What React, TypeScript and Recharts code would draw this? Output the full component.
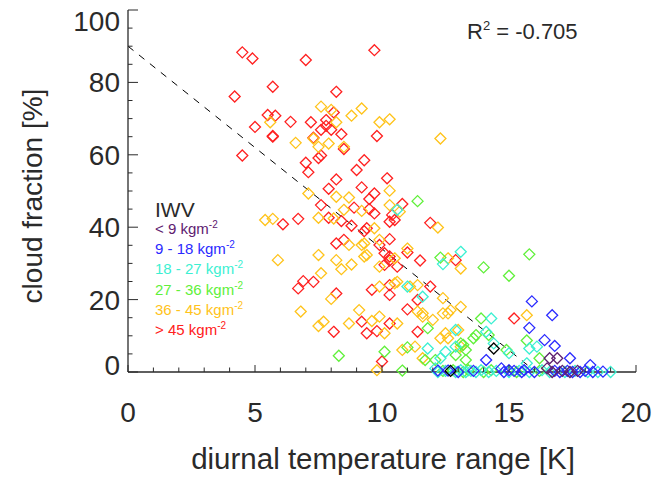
import React from "react";
import { ScatterChart, Scatter, XAxis, YAxis, ReferenceLine, Label } from "recharts";

const FONT = '"Liberation Sans", Arial, Helvetica, sans-serif';
const INK = "#2a2a2a";

// plot frame (px) used for the inward tick marks and titles
const PLOT_LEFT = 128;
const PLOT_TOP = 10;
const PLOT_RIGHT = 636;
const PLOT_BOTTOM = 372;

const xTicks = [0, 1, 2, 3, 4, 5, 6, 7, 8, 9, 10, 11, 12, 13, 14, 15, 16, 17, 18, 19, 20];
const xMajor = [0, 5, 10, 15, 20];
const yTicks = [0, 5, 10, 15, 20, 25, 30, 35, 40, 45, 50, 55, 60, 65, 70, 75, 80, 85, 90, 95, 100];
const yMajor = [0, 20, 40, 60, 80, 100];

// IWV classes, [diurnal temperature range K, cloud fraction %]
const iwvLabels = ["< 9", "9 - 18", "18 - 27", "27 - 36", "36 - 45", "> 45"];
const iwvColors = ["#5e2070", "#2a2aff", "#3cf0d2", "#60f03a", "#ffc31a", "#ff2020"];

const iwvBelow9: [number, number][] = [
  [16.6, 3.8], [16.9, 3.8], [16.5, 1.0], [16.7, 0], [17.1, 0.3], [17.4, 0], [17.7, 0.3],
];

const iwv9to18: [number, number][] = [
  [15.9, 19.5], [16.7, 15.7], [15.8, 12.2], [16.4, 8.8], [16.8, 7.2], [17.4, 3.8], [18.2, 1.9],
  [18.7, 0.1], [14.1, 3.3], [14.7, 1.0], [15.0, 0.5], [12.2, 0.4], [12.6, 0.4], [13.0, 0],
  [13.6, 0.3], [14.8, 0], [15.2, 0.3], [15.5, 0], [15.6, 0.5], [16.0, 0], [16.8, 0.3],
  [17.0, 0], [17.3, 0.3], [17.5, 0], [17.8, 0], [18.0, 0.3], [18.3, 0],
];

const iwv18to27: [number, number][] = [
  [10.6, 44.8], [13.1, 33.2], [12.4, 29.8], [11.0, 23.6], [11.6, 20.8], [14.3, 14.8],
  [12.9, 11.6], [14.1, 11.1], [11.8, 6.5], [12.5, 5.6], [12.9, 7.0], [12.3, 3.8], [12.1, 1.0],
  [14.4, 7.9], [15.8, 6.5], [16.1, 7.0], [15.7, 2.4], [19.0, 0], [15.0, 5.2],
  [12.2, 0], [12.5, 0.3], [12.9, 0], [13.1, 0.5], [13.3, 0], [13.5, 0.3], [13.7, 0],
  [13.9, 0.5], [14.2, 0], [14.5, 0.3], [15.0, 0], [15.4, 0.3], [15.8, 0], [16.3, 0.5],
  [16.6, 0], [17.2, 0], [17.6, 0.3], [18.1, 0], [18.5, 0],
];

const iwv27to36: [number, number][] = [
  [8.3, 4.5], [10.1, 5.6], [11.4, 47.2], [12.3, 31.6], [14.0, 28.9], [15.0, 26.6], [15.8, 32.5],
  [10.8, 0.4], [11.8, 12.1], [11.0, 6.8], [11.7, 3.3], [12.1, 3.3], [13.9, 14.8], [13.7, 10.2],
  [13.6, 9.3], [13.2, 7.5], [12.9, 4.7], [13.3, 3.3], [14.9, 6.1], [14.2, 10.2], [15.7, 8.7],
  [16.2, 3.8], [13.3, 6.1], [13.1, 7.9], [12.4, 0.3], [12.8, 0.5], [13.2, 0], [13.4, 0.5],
  [14.0, 0], [14.3, 0.5], [15.3, 0], [16.2, 0.3],
];

const iwv36to45: [number, number][] = [
  [7.6, 73.3], [8.0, 72.4], [8.8, 70.8], [9.2, 72.8], [9.9, 69.0], [10.3, 69.8], [5.6, 69.0],
  [8.2, 69.0], [6.6, 63.3], [7.3, 64.5], [7.5, 62.2], [7.9, 63.1], [8.5, 62.2], [12.3, 64.5],
  [7.1, 49.3], [8.2, 48.4], [8.7, 48.2], [10.3, 50.1], [5.4, 42.0], [5.7, 42.3], [5.9, 30.9],
  [7.5, 32.3], [7.6, 27.3], [8.2, 30.9], [8.4, 28.4], [8.8, 29.7], [6.8, 16.7], [7.5, 12.7],
  [7.7, 13.9], [8.0, 20.2], [8.7, 13.4], [9.1, 17.1], [9.6, 14.1], [9.9, 15.3], [7.5, 42.6],
  [8.1, 42.4], [8.5, 44.8], [9.2, 44.5], [8.7, 35.1], [9.2, 35.1], [9.3, 35.5], [9.3, 31.9],
  [9.4, 32.3], [9.9, 29.1], [9.7, 39.7], [9.8, 0.5], [9.9, 36.5], [10.3, 46.1], [10.7, 44.3],
  [12.2, 39.9], [11.0, 34.1], [10.5, 31.4], [13.1, 28.6], [12.6, 31.4], [10.6, 24.9],
  [11.4, 24.0], [10.5, 24.5], [11.1, 23.6], [12.4, 20.4], [13.1, 18.0], [12.7, 17.1],
  [12.4, 16.2], [12.6, 16.2], [10.6, 13.4], [11.6, 16.2], [11.6, 15.3], [12.0, 14.4],
  [12.5, 10.7], [12.6, 9.3], [12.3, 9.3], [10.8, 6.1], [11.3, 7.0], [11.6, 3.8], [13.1, 7.0],
  [13.0, 11.6], [9.9, 23.6], [15.7, 15.7], [10.1, 10.7], [11.4, 16.7],
];

const iwvOver45: [number, number][] = [
  [4.5, 88.3], [4.9, 86.6], [7.0, 86.2], [9.7, 88.9], [5.7, 78.8], [4.2, 76.1], [8.2, 77.4],
  [5.5, 71.0], [5.8, 70.8], [5.0, 67.7], [6.4, 69.1], [7.2, 69.0], [7.8, 69.6], [8.1, 71.7],
  [7.8, 68.0], [8.0, 66.9], [7.6, 66.9], [8.4, 65.7], [5.7, 65.0], [5.7, 65.2], [7.3, 64.7],
  [9.8, 65.2], [4.5, 59.8], [7.5, 59.1], [7.6, 59.8], [8.5, 61.6], [9.3, 58.5], [7.0, 57.8],
  [7.1, 55.2], [9.0, 55.8], [8.2, 53.2], [9.2, 51.0], [7.9, 50.6], [9.7, 49.3], [10.2, 53.5],
  [6.1, 40.8], [6.7, 42.3], [7.6, 46.1], [7.9, 42.6], [8.4, 41.7], [8.9, 45.4], [8.8, 40.4],
  [9.5, 47.8], [9.5, 45.0], [9.7, 43.8], [9.3, 38.9], [9.4, 39.7], [8.2, 35.5], [8.5, 36.5],
  [6.9, 25.1], [6.7, 23.1], [7.3, 24.9], [8.2, 21.7], [9.6, 22.7], [8.1, 11.1], [9.2, 13.9],
  [9.4, 10.7], [9.8, 11.3], [10.0, 2.9], [10.8, 46.4], [10.4, 43.4], [10.5, 42.0],
  [10.3, 41.5], [11.9, 41.2], [10.3, 36.7], [10.1, 32.8], [10.3, 31.9], [10.3, 30.8],
  [10.6, 29.1], [11.0, 33.0], [11.5, 30.8], [12.9, 30.9], [10.1, 29.6], [10.3, 24.0],
  [11.9, 23.6], [10.3, 21.3], [11.4, 19.9], [11.0, 17.3], [10.3, 13.4], [11.4, 11.1],
  [15.2, 14.8], [9.9, 35.1],
];

// points without an IWV class (drawn black)
const iwvUnknown: [number, number][] = [[14.4, 6.5], [12.7, 0.3]];

// linear fit drawn as dashed line
const fitIntercept = 90;
const fitSlope = -5.6;
const fitEndX = 16;
const rSquaredText = "-0.705";

const toPoints = (arr: [number, number][]) => arr.map(([x, y]) => ({ x, y }));

const diamond = (color: string) => (props: any) => {
  const { cx, cy } = props;
  if (cx == null || cy == null) return <g />;
  const r = 5.5;
  return (
    <path
      d={`M${cx},${cy - r}L${cx + r},${cy}L${cx},${cy + r}L${cx - r},${cy}Z`}
      fill="none"
      stroke={color}
      strokeWidth={1.3}
    />
  );
};

const XTickBottom = (props: any) => {
  const { x, payload } = props;
  const v = payload.value;
  const major = xMajor.includes(v);
  return (
    <g>
      <line x1={x} x2={x} y1={PLOT_BOTTOM} y2={PLOT_BOTTOM - (major ? 7 : 4.5)} stroke={INK} strokeWidth={1} />
      {major && (
        <text x={x} y={PLOT_BOTTOM + 50} textAnchor="middle" fontSize={28} fontFamily={FONT} fill={INK}>
          {v}
        </text>
      )}
    </g>
  );
};

const XTickTop = (props: any) => {
  const { x, payload } = props;
  const major = xMajor.includes(payload.value);
  return <line x1={x} x2={x} y1={PLOT_TOP} y2={PLOT_TOP + (major ? 7 : 4.5)} stroke={INK} strokeWidth={1} />;
};

const YTickLeft = (props: any) => {
  const { y, payload } = props;
  const v = payload.value;
  const major = yMajor.includes(v);
  const shift = v === 0 ? -7 : v === 100 ? 11 : 0;
  return (
    <g>
      <line x1={PLOT_LEFT} x2={PLOT_LEFT + (major ? 10 : 4.5)} y1={y} y2={y} stroke={INK} strokeWidth={1} />
      {major && (
        <text x={PLOT_LEFT - 8} y={y + shift + 10} textAnchor="end" fontSize={28} fontFamily={FONT} fill={INK}>
          {v}
        </text>
      )}
    </g>
  );
};

const YTickRight = (props: any) => {
  const { y, payload } = props;
  const major = yMajor.includes(payload.value);
  return <line x1={PLOT_RIGHT} x2={PLOT_RIGHT - (major ? 10 : 4.5)} y1={y} y2={y} stroke={INK} strokeWidth={1} />;
};

const series = [
  { data: iwvOver45, color: iwvColors[5] },
  { data: iwv36to45, color: iwvColors[4] },
  { data: iwv27to36, color: iwvColors[3] },
  { data: iwv18to27, color: iwvColors[2] },
  { data: iwv9to18, color: iwvColors[1] },
  { data: iwvBelow9, color: iwvColors[0] },
  { data: iwvUnknown, color: "#000000" },
];

export default function App() {
  const axisLine = { stroke: INK, strokeWidth: 1.3 };
  return (
    <div style={{ position: "absolute", left: 0, top: 0, width: 655, height: 477, background: "#fff" }}>
      <ScatterChart width={655} height={477} margin={{ top: PLOT_TOP, right: 655 - PLOT_RIGHT, bottom: 0, left: 0 }}>
        <XAxis
          type="number"
          dataKey="x"
          domain={[0, 20]}
          ticks={xTicks}
          interval={0}
          height={477 - PLOT_BOTTOM}
          tickLine={false}
          axisLine={axisLine}
          tick={(p: any) => <XTickBottom {...p} />}
        >
          <Label
            content={() => (
              <text x={383} y={469} textAnchor="middle" fontSize={29.5} fontFamily={FONT} fill={INK}>
                diurnal temperature range [K]
              </text>
            )}
          />
        </XAxis>
        <XAxis
          xAxisId="top"
          orientation="top"
          type="number"
          domain={[0, 20]}
          ticks={xTicks}
          interval={0}
          height={0}
          tickLine={false}
          axisLine={axisLine}
          tick={(p: any) => <XTickTop {...p} />}
        />
        <YAxis
          type="number"
          dataKey="y"
          domain={[0, 100]}
          ticks={yTicks}
          interval={0}
          width={PLOT_LEFT}
          tickLine={false}
          axisLine={axisLine}
          tick={(p: any) => <YTickLeft {...p} />}
        >
          <Label
            content={() => (
              <text
                x={42}
                y={196}
                transform="rotate(-90 42 196)"
                textAnchor="middle"
                fontSize={28}
                fontFamily={FONT}
                fill={INK}
              >
                cloud fraction [%]
              </text>
            )}
          />
        </YAxis>
        <YAxis
          yAxisId="right"
          orientation="right"
          type="number"
          domain={[0, 100]}
          ticks={yTicks}
          interval={0}
          width={0}
          tickLine={false}
          axisLine={axisLine}
          tick={(p: any) => <YTickRight {...p} />}
        />
        <ReferenceLine
          segment={[
            { x: 0, y: fitIntercept },
            { x: fitEndX, y: fitIntercept + fitSlope * fitEndX },
          ]}
          stroke="#000"
          strokeWidth={1}
          strokeDasharray="7 7"
        />
        {series.map((s, i) => (
          <Scatter key={i} data={toPoints(s.data)} shape={diamond(s.color)} isAnimationActive={false} />
        ))}
      </ScatterChart>

      <div
        style={{
          position: "absolute",
          left: 467,
          top: 21,
          fontFamily: FONT,
          fontSize: 22,
          lineHeight: "22px",
          color: INK,
          whiteSpace: "nowrap",
        }}
      >
        R<span style={{ fontSize: 13, position: "relative", top: -9 }}>2</span> = {rSquaredText}
      </div>

      <div style={{ position: "absolute", left: 155, top: 199, fontFamily: FONT, whiteSpace: "nowrap" }}>
        <div style={{ fontSize: 21, lineHeight: "21px", color: INK }}>IWV</div>
        {iwvLabels.map((l, i) => (
          <div key={l} style={{ fontSize: 15, lineHeight: "18.2px", color: iwvColors[i] }}>
            {l} kgm<span style={{ fontSize: 10, position: "relative", top: -6 }}>-2</span>
          </div>
        ))}
      </div>
    </div>
  );
}
